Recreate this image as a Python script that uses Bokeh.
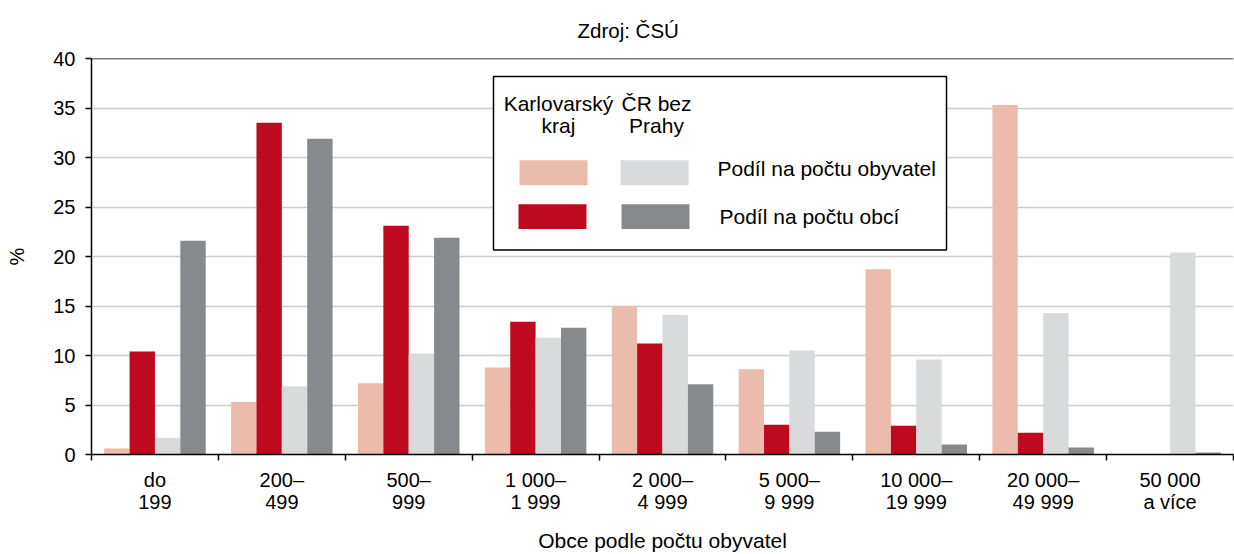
from bokeh.plotting import figure
from bokeh.models import (Range1d, FixedTicker, ColumnDataSource, Span, BoxAnnotation, Label)
from bokeh.embed import file_html
from bokeh.resources import INLINE
import numpy as np

# ---- data ----
categories = ["do\n199", "200–\n499", "500–\n999", "1 000–\n1 999", "2 000–\n4 999",
              "5 000–\n9 999", "10 000–\n19 999", "20 000–\n49 999", "50 000\na více"]
karlovarsky_obyvatel = [0.6, 5.3, 7.2, 8.8, 15.0, 8.6, 18.7, 35.3, 0.0]
karlovarsky_obci = [10.4, 33.5, 23.1, 13.4, 11.2, 3.0, 2.9, 2.2, 0.0]
cr_obyvatel = [1.7, 6.9, 10.2, 11.8, 14.1, 10.5, 9.6, 14.3, 20.4]
cr_obci = [21.6, 31.9, 21.9, 12.8, 7.1, 2.3, 1.0, 0.7, 0.2]
y_ticks = [0, 5, 10, 15, 20, 25, 30, 35, 40]

series = [
    (karlovarsky_obyvatel, "#EBBCAB"),
    (karlovarsky_obci, "#BE0A1E"),
    (cr_obyvatel, "#D9DADC"),
    (cr_obci, "#87898D"),
]

FONT = "Liberation Sans"
n = len(categories)

p = figure(width=1234, height=554, output_backend="svg", toolbar_location=None,
           x_range=Range1d(0, n), y_range=Range1d(0, 40),
           min_border_left=91, min_border_right=1, min_border_top=58, min_border_bottom=99)
p.outline_line_color = None
p.background_fill_color = "white"

idx = np.arange(n)
bar_w = 0.2
offsets = [-0.3, -0.1, 0.1, 0.3]
for (vals, color), off in zip(series, offsets):
    src = ColumnDataSource(dict(x=idx + 0.5 + off, top=vals))
    p.vbar(x="x", top="top", bottom=0, width=bar_w, source=src,
           fill_color=color, line_color=None)

# axes
p.xaxis.ticker = FixedTicker(ticks=list(idx + 0.5), minor_ticks=list(range(n + 1)))
p.xaxis.major_label_overrides = {float(i + 0.5): c for i, c in enumerate(categories)}
p.xaxis.major_tick_out = 0
p.xaxis.major_tick_in = 0
p.xaxis.minor_tick_out = 6
p.xaxis.minor_tick_in = 0
p.xaxis.minor_tick_line_color = "black"
p.xaxis.minor_tick_line_width = 1.5
p.xaxis.axis_line_color = "black"
p.xaxis.axis_line_width = 1.5
p.xaxis.major_label_text_font = FONT
p.xaxis.major_label_text_font_size = "20px"
p.xaxis.major_label_text_color = "black"
p.xaxis.major_label_text_line_height = 1.0
p.xaxis.major_label_standoff = 8
p.xaxis.axis_label = "Obce podle počtu obyvatel"
p.xaxis.axis_label_text_font = FONT
p.xaxis.axis_label_text_font_size = "21px"
p.xaxis.axis_label_text_font_style = "normal"
p.xaxis.axis_label_text_color = "black"
p.xaxis.axis_label_standoff = 13

p.yaxis.ticker = FixedTicker(ticks=y_ticks)
p.yaxis.minor_tick_line_color = None
p.yaxis.major_tick_out = 6
p.yaxis.major_tick_in = 0
p.yaxis.major_tick_line_color = "black"
p.yaxis.major_tick_line_width = 1.5
p.yaxis.axis_line_color = "black"
p.yaxis.axis_line_width = 1.5
p.yaxis.major_label_text_font = FONT
p.yaxis.major_label_text_font_size = "20px"
p.yaxis.major_label_text_color = "black"
p.yaxis.major_label_standoff = 10
p.yaxis.axis_label = "%"
p.yaxis.axis_label_text_font = FONT
p.yaxis.axis_label_text_font_size = "20px"
p.yaxis.axis_label_text_font_style = "normal"
p.yaxis.axis_label_text_color = "black"
p.yaxis.axis_label_standoff = 22

p.xgrid.grid_line_color = None
p.ygrid.ticker = FixedTicker(ticks=y_ticks)
p.ygrid.grid_line_color = "#cccccc"
p.ygrid.grid_line_width = 1.3

p.add_layout(Span(location=40, dimension="width", line_color="black", line_width=1.5))

# title
p.title.text = "Zdroj: ČSÚ"
p.title.align = "left"
p.title.offset = 486
p.title.vertical_align = "top"
p.title.text_font = FONT
p.title.text_font_size = "20.5px"
p.title.text_font_style = "normal"
p.title.text_color = "black"
p.title.standoff = 30

# ---- custom legend (positions given in page pixels, converted to data units) ----
def px2x(px):
    return (px - 91) / (1142 / n)

def px2y(py):
    return (455 - py) * 40 / 397

p.add_layout(BoxAnnotation(left=px2x(493), right=px2x(946), top=px2y(76), bottom=px2y(250),
                           fill_color="white", fill_alpha=1, line_color="black",
                           line_alpha=1, line_width=1.5))
sw = [(519, 587, 160, 185, series[0][1]), (620, 688, 160, 185, series[2][1]),
      (518, 586, 204, 229, series[1][1]), (621, 689, 204, 229, series[3][1])]
for l, r, t, b, c in sw:
    p.add_layout(BoxAnnotation(left=px2x(l), right=px2x(r), top=px2y(t), bottom=px2y(b),
                               fill_color=c, fill_alpha=1, line_color=None))

def lab(txt, px, py, align="center", size="21px"):
    p.add_layout(Label(x=px2x(px), y=px2y(py), text=txt, text_font=FONT, text_font_size=size,
                       text_align=align, text_baseline="middle", text_color="black"))

lab("Karlovarský", 558, 103)
lab("kraj", 558, 125)
lab("ČR bez", 656, 103)
lab("Prahy", 656, 125)
lab("Podíl na počtu obyvatel", 717, 168, "left")
lab("Podíl na počtu obcí", 719, 216, "left")

open("out.html", "w").write(file_html(p, INLINE))
